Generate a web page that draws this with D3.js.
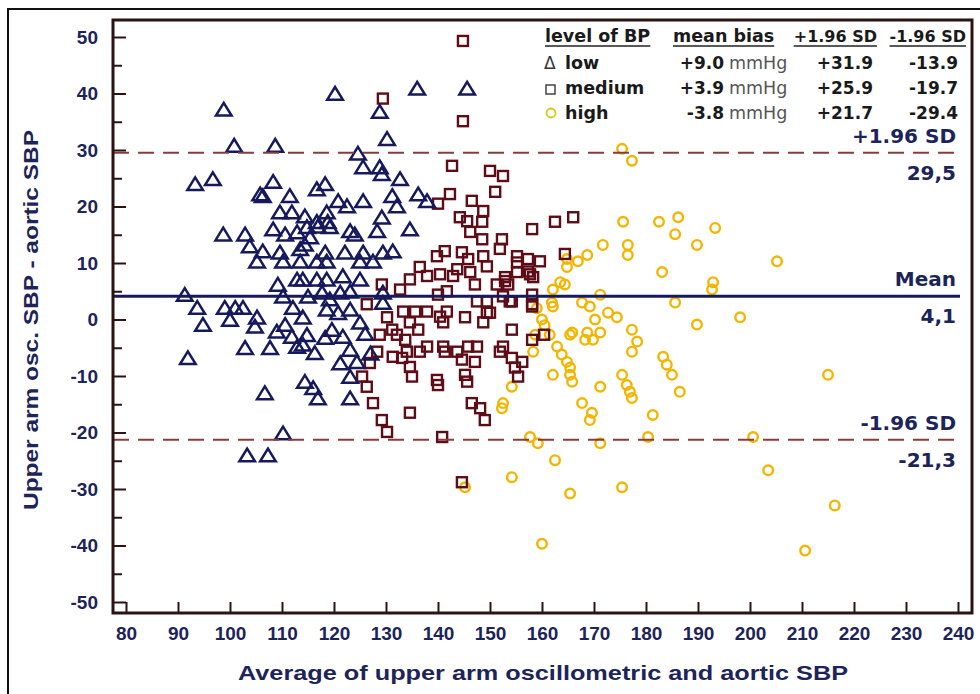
<!DOCTYPE html>
<html><head><meta charset="utf-8">
<script src="https://cdn.jsdelivr.net/npm/d3@7"></script>
<style>
html,body{margin:0;padding:0;background:#fff;}
svg{display:block;}
</style></head>
<body>
<svg id="chart" width="980" height="694"></svg>
<script>
// ---------- DATA ----------
const xTicks = [80,90,100,110,120,130,140,150,160,170,180,190,200,210,220,230,240];
const yTicks = [-50,-40,-30,-20,-10,0,10,20,30,40,50];
const yMinorTicks = [-45,-35,-25,-15,-5,5,15,25,35,45];

const meanBias = 4.1, upperLoA = 29.5, lowerLoA = -21.3;
const refLabels = [
  ["+1.96 SD","29,5",upperLoA],
  ["Mean","4,1",meanBias],
  ["-1.96 SD","-21,3",lowerLoA]
];

const legendHeaders = ["level of BP","mean bias","+1.96 SD","-1.96 SD"];
const legendLevels = ["low","medium","high"];
const legendBias = ["+9.0","+3.9","-3.8"];
const legendUpper = ["+31.9","+25.9","+21.7"];
const legendLower = ["-13.9","-19.7","-29.4"];

// low BP (triangles)
const lowPoints = [
[98.8,37.2],[100.8,30.8],[108.7,30.8],[120.2,40.0],[128.8,36.8],[130.2,32.0],[124.6,29.4],[125.6,27.0],
[128.8,27.0],[129.2,25.8],[132.7,24.9],[93.3,24.0],[96.7,24.9],[108.3,24.4],[105.8,22.2],[106.3,21.9],
[111.5,21.9],[116.7,23.1],[118.3,24.0],[120.8,21.0],[122.5,20.1],[125.6,21.0],[131.2,21.9],[132.1,20.1],
[109.6,19.0],[111.9,19.0],[114.4,18.3],[116.7,17.3],[118.6,19.0],[118.8,17.3],[129.2,18.1],[98.7,15.1],
[102.9,15.1],[108.3,16.0],[110.6,15.1],[112.9,15.5],[114.8,16.4],[115.4,14.6],[116.9,16.5],[119.2,16.4],
[123.1,15.7],[124.0,15.1],[128.3,15.7],[103.8,13.0],[106.3,12.1],[109.6,11.9],[113.5,12.5],[114.4,13.3],
[118.3,11.9],[122.1,11.9],[125.6,11.9],[129.4,11.9],[131.3,12.1],[105.2,10.3],[110.2,10.3],[113.5,10.3],
[116.7,10.3],[118.6,10.3],[125.0,10.3],[127.5,10.3],[109.2,6.2],[112.9,7.1],[114.0,7.1],[116.7,7.1],
[118.6,7.1],[121.7,7.7],[125.0,7.1],[91.3,4.4],[93.7,2.1],[94.8,-0.9],[99.0,2.1],[101.0,2.1],
[102.5,2.1],[100.0,0.0],[105.2,0.4],[104.8,-1.2],[110.2,4.1],[112.1,2.1],[114.0,0.4],[110.6,-0.9],
[109.0,-2.1],[111.9,-3.0],[114.8,-2.7],[112.9,-4.8],[114.0,-4.4],[116.3,-5.9],[102.9,-5.0],[107.7,-5.0],
[91.9,-6.8],[115.0,4.1],[117.7,4.8],[119.2,3.6],[121.2,4.8],[123.1,5.0],[118.6,1.8],[120.8,1.2],
[123.1,1.8],[125.0,-0.5],[119.6,-1.8],[118.3,-3.2],[121.7,-3.0],[123.1,-5.3],[121.2,-7.7],[124.4,-7.5],
[123.1,-10.1],[114.4,-11.0],[116.0,-12.1],[116.9,-13.9],[106.7,-13.0],[123.1,-13.9],[110.2,-20.1],[103.3,-24.0],
[107.3,-24.0],[129.4,4.8],[129.4,3.0],[136.0,40.9],[145.6,40.9],[136.2,22.2],[137.9,21.0],[134.6,16.0],
[126.0,-2.5],[127.0,-6.0]
];

// medium BP (squares)
const mediumPoints = [
[129.4,39.1],[144.8,49.3],[144.8,35.1],[142.7,27.2],[150.0,26.3],[152.5,25.4],[151.0,22.6],[142.3,22.2],
[140.0,20.5],[146.5,21.0],[148.7,19.2],[144.2,18.1],[145.6,17.4],[148.5,17.3],[158.1,16.0],[162.5,17.3],
[166.0,18.1],[146.2,15.5],[148.5,14.2],[152.3,14.2],[151.9,12.5],[155.2,11.2],[141.3,12.1],[139.8,11.2],
[144.6,11.9],[145.8,10.7],[148.7,11.2],[159.6,10.3],[157.3,10.7],[164.4,11.6],[136.5,9.3],[143.7,8.9],
[149.4,9.4],[155.2,10.1],[157.3,8.5],[129.2,6.2],[134.6,7.1],[137.9,7.7],[140.4,8.0],[142.9,7.7],
[146.2,8.4],[147.1,6.2],[151.3,6.2],[152.9,6.8],[155.2,8.4],[157.7,8.0],[132.7,5.3],[140.0,4.4],
[141.7,5.0],[147.5,3.2],[149.4,3.2],[152.5,4.1],[154.2,3.2],[158.1,4.4],[158.1,2.7],[126.3,2.7],
[133.3,1.4],[135.6,1.4],[137.9,1.4],[141.7,1.4],[149.4,1.2],[130.2,0.4],[134.6,-0.5],[140.4,0.5],
[141.0,-0.5],[145.2,0.4],[148.7,-0.5],[128.8,-2.7],[131.2,-1.8],[132.1,-2.7],[133.7,-3.6],[136.2,-1.8],
[154.2,-1.8],[158.1,-3.6],[128.3,-5.7],[131.3,-6.6],[134.0,-5.7],[133.1,-6.8],[137.9,-4.8],[136.5,-5.7],
[141.0,-4.8],[141.3,-5.7],[143.7,-5.7],[145.8,-4.8],[147.5,-4.8],[144.6,-7.1],[147.1,-7.5],[152.5,-4.8],
[151.9,-5.7],[154.2,-6.8],[156.2,-7.5],[154.8,-8.5],[155.4,-10.1],[134.6,-8.4],[135.0,-10.1],[126.9,-7.7],
[125.4,-10.1],[126.3,-11.9],[139.8,-10.7],[140.0,-11.6],[145.2,-9.8],[145.6,-11.0],[127.5,-14.8],[129.2,-17.8],
[130.2,-19.9],[134.6,-16.5],[146.5,-14.8],[148.1,-15.7],[149.0,-17.8],[140.8,-20.8],[144.6,-28.8],[158.3,7.5],
[152.9,7.5],[153.5,6.2],[153.8,3.2],[158.1,2.3],[150.0,1.2],[160.4,-2.7]
];

// high BP (circles)
const highPoints = [
[175.4,30.2],[177.3,28.1],[175.6,17.3],[182.5,17.3],[186.2,18.1],[185.6,15.1],[193.3,16.2],[189.8,13.2],
[176.5,13.2],[176.5,11.4],[171.7,13.2],[168.7,11.4],[166.9,10.3],[164.8,10.7],[164.8,9.3],[205.2,10.3],
[183.1,8.4],[192.9,6.6],[192.7,5.3],[163.5,6.6],[164.4,6.2],[162.1,5.3],[185.6,3.0],[171.2,4.4],
[167.7,3.0],[169.2,2.3],[161.9,3.0],[162.1,2.3],[172.7,1.2],[174.4,0.4],[170.2,0.0],[160.0,0.0],
[177.3,-1.8],[189.8,-0.9],[198.1,0.4],[165.8,-2.3],[168.7,-2.3],[171.2,-2.3],[158.7,-2.7],[161.5,-2.7],
[165.4,-2.7],[169.8,-3.6],[162.9,-4.8],[163.8,-6.2],[164.8,-7.5],[165.4,-8.5],[165.4,-9.8],[165.8,-11.0],
[168.3,-3.6],[178.3,-3.9],[177.3,-5.7],[183.3,-6.6],[184.0,-8.0],[185.0,-9.8],[186.5,-12.8],[175.4,-9.8],
[176.3,-11.6],[176.9,-12.8],[177.3,-13.9],[171.2,-11.9],[162.1,-9.8],[158.3,-5.7],[154.2,-11.9],[152.5,-14.8],
[152.3,-15.7],[167.7,-14.8],[169.6,-16.5],[169.2,-17.8],[181.3,-16.9],[157.7,-20.8],[159.2,-21.9],[171.2,-21.9],
[180.4,-20.8],[200.6,-20.8],[162.5,-24.9],[203.5,-26.7],[154.2,-27.9],[175.4,-29.7],[165.4,-30.8],[215.0,-9.8],
[216.3,-32.9],[160.0,-39.7],[210.6,-40.9],[145.2,-29.7],[159.0,2.0],[160.5,-1.0]
];

// ---------- STYLE ----------
const NAVY = "#161a5c", MAROON = "#5e0d17", GOLD = "#f2b600", DASH = "#8a3c3c";
const TXT = "#1d2459", AXIS = "#2a1412";
const FONT = "'Liberation Sans', Arial, sans-serif";
const LFONT = "'DejaVu Sans', Verdana, sans-serif";

const svg = d3.select("#chart");
svg.append("rect").attr("x",8).attr("y",9).attr("width",1000).attr("height",1000)
  .attr("fill","none").attr("stroke","#111").attr("stroke-width",2);

const x = d3.scaleLinear().domain([80,240]).range([126,958]);
const y = d3.scaleLinear().domain([-50,50]).range([602,37]);
const frame = {l:113, t:20, r:972, b:613};

// points
const gPts = svg.append("g");
gPts.selectAll("circle.high").data(highPoints).join("circle")
  .attr("cx",d=>x(d[0])).attr("cy",d=>y(d[1])).attr("r",4.8)
  .attr("fill","none").attr("stroke",GOLD).attr("stroke-width",2.4);
gPts.selectAll("rect.med").data(mediumPoints).join("rect")
  .attr("x",d=>x(d[0])-5).attr("y",d=>y(d[1])-5).attr("width",10).attr("height",10)
  .attr("fill","none").attr("stroke",MAROON).attr("stroke-width",2.4);
gPts.selectAll("path.low").data(lowPoints).join("path")
  .attr("d","M0,-6.5L7.8,6.2L-7.8,6.2Z")
  .attr("transform",d=>`translate(${x(d[0])},${y(d[1])})`)
  .attr("fill","none").attr("stroke",NAVY).attr("stroke-width",2.5).attr("stroke-linejoin","miter");

// reference lines
[upperLoA, lowerLoA].forEach(v=>{
  svg.append("line").attr("x1",frame.l).attr("x2",x(240)).attr("y1",y(v)).attr("y2",y(v))
    .attr("stroke",DASH).attr("stroke-width",2).attr("stroke-dasharray","16,9");
});
svg.append("line").attr("x1",frame.l).attr("x2",x(240)+2).attr("y1",y(meanBias)).attr("y2",y(meanBias))
  .attr("stroke",NAVY).attr("stroke-width",3);

refLabels.forEach(r=>{
  svg.append("text").attr("x",956).attr("y",y(r[2])-10).attr("text-anchor","end")
    .attr("font-family",LFONT).attr("font-weight","bold").attr("font-size",20).attr("fill",TXT).text(r[0]);
  svg.append("text").attr("x",956).attr("y",y(r[2])+27).attr("text-anchor","end")
    .attr("font-family",LFONT).attr("font-weight","bold").attr("font-size",20).attr("fill",TXT).text(r[1]);
});

// frame
svg.append("rect").attr("x",frame.l).attr("y",frame.t).attr("width",frame.r-frame.l).attr("height",frame.b-frame.t)
  .attr("fill","none").attr("stroke",AXIS).attr("stroke-width",3);

// axes
const fmt = d => String(d);
const yAxis = d3.axisLeft(y).tickValues(yTicks).tickFormat(fmt).tickSizeInner(-13).tickSizeOuter(0).tickPadding(15);
const gy = svg.append("g").attr("transform",`translate(${frame.l},0)`).call(yAxis);
gy.select(".domain").remove();
gy.selectAll(".tick line").attr("stroke",AXIS).attr("stroke-width",2);
gy.selectAll(".tick text").attr("font-family",FONT).attr("font-weight","bold").attr("font-size",19).attr("fill",TXT);

const yMinor = d3.axisLeft(y).tickValues(yMinorTicks).tickSizeInner(-9).tickSizeOuter(0).tickFormat("");
const gy2 = svg.append("g").attr("transform",`translate(${frame.l},0)`).call(yMinor);
gy2.select(".domain").remove();
gy2.selectAll(".tick line").attr("stroke",AXIS).attr("stroke-width",2);

const xAxis = d3.axisBottom(x).tickValues(xTicks).tickFormat(fmt).tickSizeInner(-11).tickSizeOuter(0).tickPadding(14);
const gx = svg.append("g").attr("transform",`translate(0,${frame.b})`).call(xAxis);
gx.select(".domain").remove();
gx.selectAll(".tick line").attr("stroke",AXIS).attr("stroke-width",2);
gx.selectAll(".tick text").attr("font-family",FONT).attr("font-weight","bold").attr("font-size",19).attr("fill",TXT);

// axis titles
svg.append("text").attr("x",543).attr("y",680).attr("text-anchor","middle")
  .attr("font-family",FONT).attr("font-weight","bold").attr("font-size",21).attr("fill",TXT)
  .attr("textLength",610).attr("lengthAdjust","spacingAndGlyphs")
  .text("Average of upper arm oscillometric and aortic SBP");
svg.append("text").attr("transform","translate(38,320) rotate(-90)").attr("text-anchor","middle")
  .attr("font-family",FONT).attr("font-weight","bold").attr("font-size",21).attr("fill",TXT)
  .attr("textLength",380).attr("lengthAdjust","spacingAndGlyphs")
  .text("Upper arm osc. SBP - aortic SBP");

// legend table
const lg = svg.append("g").attr("font-family",LFONT).attr("fill","#1a1a1a");
const hdrX = [[545,"start",17.5],[673,"start",17.5],[877,"end",16],[966,"end",16]];
legendHeaders.forEach((h,i)=>{
  const t = lg.append("text").attr("x",hdrX[i][0]).attr("y",42).attr("text-anchor",hdrX[i][1])
    .attr("font-weight","bold").attr("font-size",hdrX[i][2]).text(h);
  const bb = t.node().getBBox();
  lg.append("line").attr("x1",bb.x).attr("x2",bb.x+bb.width).attr("y1",46).attr("y2",46)
    .attr("stroke","#222").attr("stroke-width",1.4);
});
const rowY = [69,94,119];
legendLevels.forEach((lv,i)=>{
  lg.append("text").attr("x",565).attr("y",rowY[i]).attr("font-weight","bold").attr("font-size",17.5).text(lv);
  lg.append("text").attr("x",724).attr("y",rowY[i]).attr("text-anchor","end").attr("font-weight","bold").attr("font-size",17).text(legendBias[i]);
  lg.append("text").attr("x",729).attr("y",rowY[i]).attr("font-size",17.5).attr("fill","#555").text("mmHg");
  lg.append("text").attr("x",873).attr("y",rowY[i]).attr("text-anchor","end").attr("font-weight","bold").attr("font-size",17).text(legendUpper[i]);
  lg.append("text").attr("x",958).attr("y",rowY[i]).attr("text-anchor","end").attr("font-weight","bold").attr("font-size",17).text(legendLower[i]);
});
lg.append("text").attr("x",544).attr("y",69).attr("font-size",17).attr("fill","#333").text("Δ");
lg.append("rect").attr("x",546).attr("y",85).attr("width",9).attr("height",9).attr("fill","none").attr("stroke","#444").attr("stroke-width",1.5);
lg.append("circle").attr("cx",551).attr("cy",113).attr("r",4.5).attr("fill","none").attr("stroke","#d2cc10").attr("stroke-width",1.8);
</script>
</body></html>
